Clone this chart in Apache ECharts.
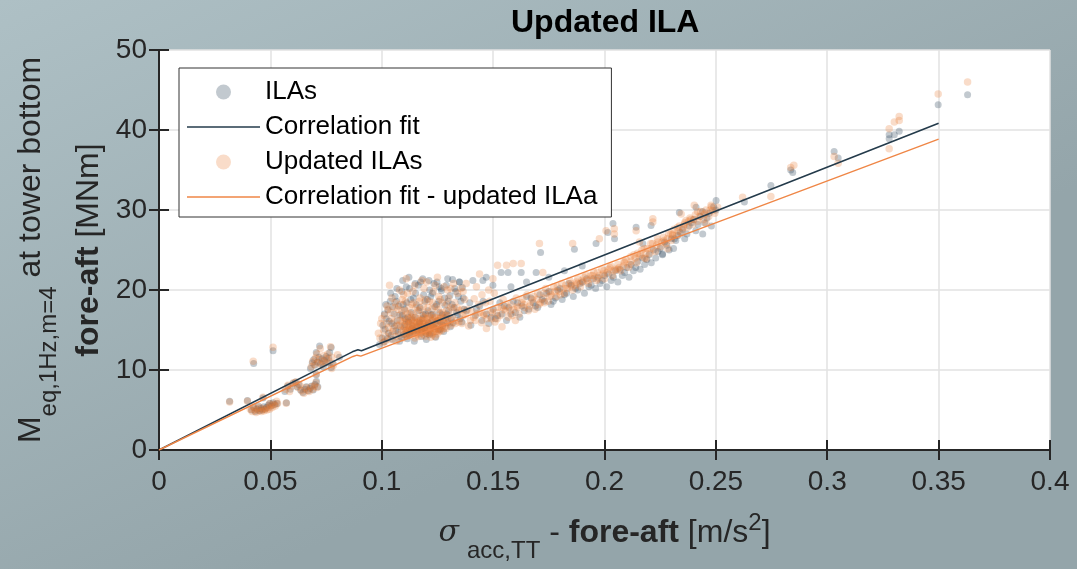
<!DOCTYPE html>
<html>
<head>
<meta charset="utf-8">
<script src="https://cdn.jsdelivr.net/npm/echarts@6/dist/echarts.min.js"></script>
<style>
  html, body { margin: 0; padding: 0; }
  #chart { width: 1077px; height: 569px; }
</style>
</head>
<body>
<div id="chart"></div>
<script>
// Axis tick labels
const xTickLabels = ['0', '0.05', '0.1', '0.15', '0.2', '0.25', '0.3', '0.35', '0.4'];
const yTickLabels = ['0', '10', '20', '30', '40', '50'];

// Original ILA load cases: [sigma_acc (m/s^2), M_eq (MNm)]
const ilas = [
  [0.0317, 6.1], [0.0397, 6.2], [0.0425, 10.8], [0.0512, 12.4],
  [0.0415, 5.0], [0.0425, 5.3], [0.0432, 4.8], [0.0440, 5.1], [0.0446, 5.5], [0.0452, 4.9], [0.0458, 5.2],
  [0.0463, 5.0], [0.0470, 5.4], [0.0476, 5.1], [0.0483, 5.3], [0.0490, 5.6], [0.0497, 5.8], [0.0504, 5.5],
  [0.0512, 5.9], [0.0520, 5.7], [0.0530, 5.8], [0.0467, 6.5], [0.0572, 5.9],
  [0.0565, 7.3], [0.0578, 8.0], [0.0590, 7.6], [0.0601, 8.3], [0.0612, 8.5], [0.0620, 7.9], [0.0628, 8.2],
  [0.0636, 7.5], [0.0646, 7.2], [0.0655, 7.6], [0.0662, 7.9], [0.0670, 7.4], [0.0678, 7.7], [0.0686, 8.0],
  [0.0692, 7.5], [0.0700, 8.2], [0.0707, 8.6], [0.0713, 7.9],
  [0.0680, 10.2], [0.0688, 10.9], [0.0695, 11.3], [0.0700, 10.6], [0.0706, 12.2], [0.0712, 11.0], [0.0718, 11.6],
  [0.0721, 13.0], [0.0726, 10.8], [0.0732, 11.4], [0.0738, 10.4], [0.0743, 11.2], [0.0750, 11.7], [0.0756, 10.9],
  [0.0762, 11.5], [0.0766, 12.2], [0.0773, 12.8], [0.0773, 10.3], [0.0781, 10.8], [0.0810, 11.6], [0.0706, 9.4],
  [0.0990, 13.2], [0.1002, 14.0], [0.1010, 13.5], [0.1015, 15.1], [0.1020, 16.4], [0.1028, 17.5], [0.1030, 14.6],
  [0.1038, 18.6], [0.1045, 15.8], [0.1050, 13.8], [0.1055, 17.0], [0.1060, 19.2], [0.1063, 14.9], [0.1070, 16.2],
  [0.1075, 18.0], [0.1080, 13.6], [0.1085, 15.4], [0.1090, 19.8], [0.1092, 16.8], [0.1098, 14.4], [0.1102, 17.6],
  [0.1108, 15.0], [0.1112, 18.4], [0.1115, 13.9], [0.1120, 16.0], [0.1125, 20.2], [0.1128, 14.7], [0.1132, 17.2],
  [0.1138, 15.5], [0.1142, 19.0], [0.1146, 13.6], [0.1150, 16.6], [0.1155, 18.2], [0.1160, 14.9], [0.1164, 20.6],
  [0.1168, 15.8], [0.1172, 17.8], [0.1178, 14.2], [0.1182, 16.4], [0.1188, 19.4], [0.1192, 15.2], [0.1196, 17.0],
  [0.1200, 13.8], [0.1205, 18.8], [0.1210, 15.9], [0.1215, 20.0], [0.1218, 14.6], [0.1222, 16.9], [0.1228, 19.6],
  [0.1232, 15.4], [0.1238, 17.9], [0.1242, 14.1], [0.1248, 21.0], [0.1252, 16.2], [0.1256, 18.6], [0.1262, 15.1],
  [0.1268, 19.9], [0.1272, 16.9], [0.1278, 14.8], [0.1284, 18.1], [0.1290, 20.6], [0.1295, 15.9], [0.1300, 17.4],
  [0.1306, 19.3], [0.1312, 16.4], [0.1318, 21.3], [0.1325, 17.8], [0.1332, 19.8], [0.1340, 16.9], [0.1348, 21.0],
  [0.1355, 18.6], [0.1362, 20.3], [0.1370, 17.6],
  [0.1005, 15.6], [0.1012, 17.0], [0.1025, 13.9], [0.1033, 16.1], [0.1042, 14.3], [0.1048, 17.9], [0.1058, 15.5],
  [0.1066, 18.6], [0.1073, 14.7], [0.1082, 16.9], [0.1088, 14.1], [0.1096, 18.2], [0.1104, 15.7], [0.1110, 20.4],
  [0.1118, 16.6], [0.1124, 14.4], [0.1130, 18.8], [0.1136, 16.3], [0.1144, 14.9], [0.1152, 19.6], [0.1158, 15.4],
  [0.1166, 17.4], [0.1174, 21.0], [0.1180, 15.0], [0.1186, 16.9], [0.1194, 18.6], [0.1202, 15.6], [0.1208, 17.4],
  [0.1214, 14.4], [0.1220, 19.2], [0.1226, 16.2], [0.1234, 20.8], [0.1240, 15.8], [0.1246, 18.2], [0.1254, 15.0],
  [0.1260, 17.2], [0.1266, 20.2], [0.1274, 15.6], [0.1282, 19.0], [0.1288, 16.6], [0.1298, 18.6], [0.1308, 15.4],
  [0.1316, 18.2], [0.1328, 20.2], [0.1336, 17.2], [0.1344, 19.2], [0.1352, 16.4], [0.1366, 19.0],
  [0.1018, 18.2], [0.1040, 19.6], [0.1068, 20.2], [0.1094, 21.2], [0.1122, 21.6], [0.1150, 20.8], [0.1184, 21.4],
  [0.1212, 21.2], [0.1258, 20.4], [0.1296, 21.4], [0.1106, 16.4], [0.1134, 15.2], [0.1170, 16.0], [0.1198, 14.6],
  [0.1230, 17.0], [0.1264, 16.0], [0.1292, 17.0], [0.1320, 15.9],
  [0.1360, 16.0], [0.1380, 17.4], [0.1400, 15.6], [0.1420, 16.8], [0.1440, 18.0], [0.1450, 16.2], [0.1470, 17.0],
  [0.1480, 15.8], [0.1500, 17.6], [0.1510, 16.4], [0.1530, 18.4], [0.1540, 17.0], [0.1560, 16.2], [0.1570, 17.8],
  [0.1590, 18.6], [0.1600, 17.2], [0.1620, 16.6], [0.1630, 18.0], [0.1650, 19.2], [0.1660, 17.6], [0.1680, 18.4],
  [0.1700, 17.8], [0.1710, 19.4], [0.1730, 18.6], [0.1750, 19.8], [0.1760, 18.2], [0.1780, 19.0], [0.1800, 20.2],
  [0.1810, 18.8], [0.1830, 19.6], [0.1850, 20.6], [0.1860, 19.2], [0.1880, 20.0], [0.1900, 21.0], [0.1910, 19.6],
  [0.1930, 20.4], [0.1950, 21.4], [0.1960, 20.2], [0.1980, 20.8], [0.2000, 21.8], [0.2010, 20.4], [0.2030, 21.2],
  [0.2050, 22.4], [0.2060, 21.0], [0.2080, 21.8], [0.2100, 22.8], [0.2110, 21.6], [0.2130, 22.4], [0.2150, 23.6],
  [0.2160, 22.6], [0.2180, 23.2], [0.2200, 24.4], [0.2210, 23.4], [0.2230, 24.0], [0.2250, 25.2], [0.2260, 24.4],
  [0.2280, 25.6], [0.2300, 26.4], [0.2310, 25.2], [0.2330, 26.8], [0.2350, 27.6], [0.2360, 26.4], [0.2380, 28.0],
  [0.2400, 28.8], [0.2410, 27.4], [0.2430, 29.2], [0.2450, 28.4], [0.2470, 29.6], [0.2480, 28.0], [0.2500, 30.0],
  [0.1395, 18.4], [0.1425, 17.6], [0.1455, 18.6], [0.1490, 16.6], [0.1520, 16.8], [0.1550, 18.0], [0.1580, 17.0],
  [0.1610, 18.4], [0.1640, 17.4], [0.1670, 19.0], [0.1690, 18.0], [0.1720, 18.8], [0.1740, 19.6], [0.1770, 18.6],
  [0.1790, 20.0], [0.1820, 19.4], [0.1840, 20.8], [0.1870, 20.2], [0.1890, 20.8], [0.1920, 21.4], [0.1940, 20.6],
  [0.1970, 21.6], [0.1990, 21.2], [0.2020, 22.0], [0.2040, 21.6], [0.2070, 22.6], [0.2090, 22.2], [0.2120, 23.2],
  [0.2140, 22.8], [0.2170, 24.0], [0.2190, 23.8], [0.2220, 25.0], [0.2240, 24.8], [0.2270, 26.0], [0.2290, 25.0],
  [0.2320, 26.2], [0.2340, 27.2], [0.2370, 27.0], [0.2390, 28.4], [0.2420, 28.2], [0.2440, 29.8], [0.2460, 29.0],
  [0.2490, 30.4],
  [0.1349, 21.0], [0.1409, 21.2], [0.1454, 21.2], [0.1469, 21.6], [0.1499, 20.6], [0.1536, 22.2], [0.1567, 22.2],
  [0.1626, 22.2], [0.1693, 22.2], [0.1713, 24.7], [0.1865, 25.1], [0.1962, 25.8], [0.2015, 27.2], [0.2045, 26.4],
  [0.2038, 28.3], [0.2142, 27.85], [0.2209, 28.05], [0.2172, 25.8], [0.2261, 24.5], [0.2314, 26.4], [0.2336, 29.7],
  [0.2411, 30.35], [0.2441, 27.0], [0.2501, 31.2], [0.2628, 31.0], [0.2747, 33.06], [0.1580, 20.4], [0.1650, 21.0],
  [0.1750, 21.6], [0.1820, 22.4], [0.1900, 23.0],
  [0.2845, 34.7], [0.2836, 35.0], [0.3031, 37.3], [0.3049, 36.5], [0.3278, 39.4], [0.3278, 38.9], [0.3301, 39.4],
  [0.3323, 39.85], [0.3498, 43.15], [0.3630, 44.4]
];

// Updated ILA load cases: [sigma_acc (m/s^2), M_eq (MNm)]
const ilasUpdated = [
  [0.0317, 6.0], [0.0397, 6.1], [0.0423, 11.1], [0.0512, 12.85],
  [0.0410, 5.1], [0.0418, 4.8], [0.0424, 5.4], [0.0430, 5.0], [0.0436, 4.7], [0.0442, 5.2], [0.0448, 4.9],
  [0.0454, 5.3], [0.0460, 4.8], [0.0466, 5.1], [0.0472, 4.9], [0.0478, 5.2], [0.0484, 5.0], [0.0490, 5.3],
  [0.0496, 5.1], [0.0502, 5.6], [0.0508, 5.3], [0.0514, 5.7], [0.0522, 5.5], [0.0532, 5.8], [0.0528, 6.1],
  [0.0467, 6.6], [0.0497, 5.8], [0.0571, 5.85],
  [0.0568, 7.6], [0.0579, 8.1], [0.0586, 7.3], [0.0596, 8.0], [0.0604, 8.4], [0.0616, 8.5], [0.0624, 7.8],
  [0.0632, 8.1], [0.0640, 7.4], [0.0650, 7.1], [0.0658, 7.8], [0.0666, 7.5], [0.0674, 7.3], [0.0682, 7.9],
  [0.0690, 7.6], [0.0698, 8.0], [0.0704, 8.4], [0.0710, 7.8],
  [0.0684, 10.4], [0.0690, 11.1], [0.0697, 10.7], [0.0703, 11.5], [0.0709, 12.0], [0.0714, 10.9], [0.0720, 11.3],
  [0.0724, 12.7], [0.0729, 10.6], [0.0735, 11.1], [0.0740, 11.8], [0.0746, 10.9], [0.0752, 11.4], [0.0758, 12.0],
  [0.0764, 11.1], [0.0770, 12.9], [0.0776, 11.6], [0.0783, 10.6], [0.0775, 10.2], [0.0706, 9.5], [0.0802, 11.9],
  [0.0985, 14.6], [0.0995, 15.8], [0.1005, 13.4], [0.1012, 16.8], [0.1018, 14.2], [0.1024, 18.0], [0.1030, 15.3],
  [0.1036, 13.8], [0.1040, 17.2], [0.1046, 19.0], [0.1050, 14.8], [0.1055, 16.0], [0.1060, 18.4], [0.1065, 13.6],
  [0.1068, 15.6], [0.1072, 17.6], [0.1076, 14.4], [0.1080, 20.0], [0.1084, 16.2], [0.1088, 15.0], [0.1092, 18.8],
  [0.1095, 14.0], [0.1098, 16.6], [0.1102, 15.4], [0.1105, 17.4], [0.1108, 14.6], [0.1112, 15.8], [0.1115, 19.6],
  [0.1118, 14.9], [0.1121, 16.4], [0.1124, 15.2], [0.1127, 17.0], [0.1130, 14.3], [0.1133, 15.6], [0.1136, 18.2],
  [0.1139, 16.0], [0.1142, 14.8], [0.1145, 15.4], [0.1148, 20.6], [0.1151, 16.6], [0.1154, 14.5], [0.1157, 15.9],
  [0.1160, 17.4], [0.1163, 15.1], [0.1166, 14.2], [0.1169, 16.2], [0.1172, 19.0], [0.1175, 15.5], [0.1178, 14.7],
  [0.1181, 16.8], [0.1184, 15.3], [0.1187, 18.0], [0.1190, 14.4], [0.1193, 15.8], [0.1196, 17.2], [0.1199, 15.0],
  [0.1202, 21.0], [0.1205, 16.4], [0.1208, 14.6], [0.1211, 15.6], [0.1214, 18.6], [0.1217, 15.2], [0.1220, 14.1],
  [0.1223, 16.0], [0.1226, 17.6], [0.1229, 15.4], [0.1232, 19.8], [0.1235, 14.8], [0.1238, 16.5], [0.1241, 15.1],
  [0.1244, 17.9], [0.1248, 14.5], [0.1252, 16.2], [0.1256, 19.2], [0.1260, 15.5], [0.1264, 17.0], [0.1268, 14.9],
  [0.1272, 18.4], [0.1276, 16.0], [0.1280, 20.4], [0.1285, 15.4], [0.1290, 17.4], [0.1295, 16.4], [0.1300, 19.0],
  [0.1305, 15.8], [0.1310, 17.8], [0.1316, 16.6], [0.1322, 20.8], [0.1328, 18.4], [0.1334, 16.2], [0.1340, 19.6],
  [0.1348, 17.4], [0.1356, 20.2], [0.1364, 16.8], [0.1372, 18.8],
  [0.1035, 20.6], [0.1110, 21.4], [0.1180, 21.2], [0.1250, 21.6],
  [0.0992, 14.0], [0.1000, 16.4], [0.1008, 15.0], [0.1016, 13.6], [0.1022, 15.8], [0.1028, 17.6], [0.1034, 14.6],
  [0.1043, 16.4], [0.1052, 15.2], [0.1058, 17.8], [0.1063, 14.2], [0.1070, 16.8], [0.1078, 15.6], [0.1083, 18.2],
  [0.1090, 16.0], [0.1097, 15.0], [0.1103, 16.2], [0.1107, 18.6], [0.1113, 14.2], [0.1117, 15.6], [0.1122, 17.8],
  [0.1126, 14.8], [0.1131, 16.2], [0.1135, 15.0], [0.1140, 17.0], [0.1144, 15.8], [0.1149, 14.0], [0.1153, 17.8],
  [0.1158, 15.2], [0.1162, 16.0], [0.1167, 15.0], [0.1171, 17.6], [0.1176, 16.2], [0.1180, 14.9], [0.1185, 15.7],
  [0.1189, 16.6], [0.1194, 14.8], [0.1198, 16.0], [0.1203, 15.4], [0.1207, 17.8], [0.1212, 14.8], [0.1216, 16.6],
  [0.1221, 15.6], [0.1225, 14.6], [0.1230, 16.8], [0.1234, 15.6], [0.1239, 14.2], [0.1243, 16.0], [0.1249, 15.6],
  [0.1254, 17.6], [0.1258, 14.8], [0.1263, 16.4], [0.1269, 15.8], [0.1274, 17.2], [0.1279, 15.2], [0.1287, 16.8],
  [0.1293, 18.2], [0.1302, 16.8], [0.1312, 15.6], [0.1320, 17.6], [0.1330, 15.8], [0.1338, 17.8], [0.1346, 16.0],
  [0.1360, 17.6], [0.1098, 19.4], [0.1140, 19.8], [0.1190, 20.2], [0.1240, 20.6], [0.1296, 20.0],
  [0.1100, 15.2], [0.1106, 14.4], [0.1111, 16.0], [0.1116, 15.0], [0.1120, 14.4], [0.1125, 15.8], [0.1129, 15.0],
  [0.1134, 16.6], [0.1137, 14.6], [0.1141, 15.2], [0.1146, 16.2], [0.1150, 14.8], [0.1155, 15.6], [0.1159, 14.4],
  [0.1164, 16.4], [0.1168, 15.4], [0.1173, 14.6], [0.1177, 15.8], [0.1182, 15.0], [0.1186, 16.2], [0.1191, 15.4],
  [0.1195, 14.2], [0.1200, 16.4], [0.1204, 14.6], [0.1209, 15.8], [0.1213, 16.8], [0.1218, 15.0], [0.1222, 15.4],
  [0.1227, 14.4], [0.1231, 16.2], [0.1236, 15.2], [0.1240, 16.6], [0.1245, 14.8], [0.1250, 15.2], [0.1255, 16.4],
  [0.1261, 15.0], [0.1266, 16.6], [0.1271, 15.4], [0.1277, 16.4], [0.1283, 15.8], [0.1289, 15.2], [0.1298, 16.0],
  [0.1090, 17.4], [0.1114, 17.0], [0.1143, 18.4], [0.1170, 18.6], [0.1197, 18.8], [0.1228, 18.4], [0.1262, 18.8],
  [0.1360, 15.8], [0.1375, 16.9], [0.1390, 15.5], [0.1405, 17.3], [0.1420, 16.2], [0.1435, 18.2], [0.1448, 15.9],
  [0.1460, 17.0], [0.1472, 16.4], [0.1485, 18.6], [0.1496, 17.2], [0.1508, 16.0], [0.1520, 17.8], [0.1532, 16.8],
  [0.1545, 18.8], [0.1556, 17.4], [0.1568, 16.6], [0.1580, 18.2], [0.1592, 17.6], [0.1604, 19.0], [0.1616, 17.0],
  [0.1628, 18.4], [0.1640, 17.8], [0.1652, 19.4], [0.1664, 18.0], [0.1676, 18.8], [0.1688, 17.6], [0.1700, 19.6],
  [0.1712, 18.4], [0.1724, 19.0], [0.1736, 20.2], [0.1748, 18.6], [0.1760, 19.4], [0.1772, 20.4], [0.1784, 19.2],
  [0.1796, 19.8], [0.1808, 20.8], [0.1820, 19.6], [0.1832, 20.2], [0.1844, 21.2], [0.1856, 20.0], [0.1868, 20.6],
  [0.1880, 21.4], [0.1892, 20.4], [0.1904, 21.0], [0.1916, 21.8], [0.1928, 20.8], [0.1940, 21.4], [0.1952, 22.2],
  [0.1964, 21.2], [0.1976, 21.8], [0.1988, 22.6], [0.2000, 21.4], [0.2012, 22.2], [0.2024, 22.8], [0.2036, 21.8],
  [0.2048, 22.6], [0.2060, 23.2], [0.2072, 22.4], [0.2084, 23.0], [0.2096, 23.8], [0.2108, 22.8], [0.2120, 23.6],
  [0.2132, 24.4], [0.2144, 23.4], [0.2156, 24.2], [0.2168, 25.0], [0.2180, 24.0], [0.2192, 25.2], [0.2204, 24.6],
  [0.2216, 25.8], [0.2228, 24.8], [0.2240, 26.0], [0.2252, 25.4], [0.2264, 26.6], [0.2276, 25.8], [0.2288, 27.0],
  [0.2300, 26.2], [0.2312, 27.6], [0.2324, 26.8], [0.2336, 28.0], [0.2348, 27.2], [0.2360, 28.4], [0.2372, 27.8],
  [0.2384, 29.0], [0.2396, 28.2], [0.2408, 29.4], [0.2420, 28.6], [0.2432, 29.8], [0.2444, 28.8], [0.2456, 30.0],
  [0.2468, 29.2], [0.2480, 30.4], [0.2495, 29.6],
  [0.1385, 17.6], [0.1412, 16.6], [0.1440, 17.2], [0.1465, 18.4], [0.1492, 16.4], [0.1515, 17.2], [0.1538, 17.8],
  [0.1562, 18.0], [0.1586, 16.8], [0.1610, 17.8], [0.1634, 18.8], [0.1658, 17.4], [0.1682, 19.2], [0.1706, 18.2],
  [0.1730, 18.4], [0.1754, 19.2], [0.1778, 19.8], [0.1802, 19.4], [0.1826, 20.6], [0.1850, 20.4], [0.1874, 21.0],
  [0.1898, 21.2], [0.1922, 21.2], [0.1946, 21.8], [0.1970, 21.4], [0.1994, 22.0], [0.2018, 22.6], [0.2042, 22.4],
  [0.2066, 22.8], [0.2090, 23.4], [0.2114, 23.2], [0.2138, 24.0], [0.2162, 24.4], [0.2186, 24.6], [0.2210, 25.2],
  [0.2234, 25.6], [0.2258, 26.0], [0.2282, 26.4], [0.2306, 26.8], [0.2330, 27.4], [0.2354, 27.8], [0.2378, 28.6],
  [0.2402, 28.8], [0.2426, 29.2], [0.2450, 29.6], [0.2474, 30.0],
  [0.1398, 16.2], [0.1428, 17.0], [0.1458, 16.8], [0.1488, 17.4], [0.1518, 16.4], [0.1548, 17.6], [0.1578, 17.4],
  [0.1608, 18.0], [0.1638, 18.2], [0.1668, 18.4], [0.1698, 18.8], [0.1728, 19.6], [0.1758, 19.8], [0.1788, 20.4],
  [0.1818, 20.2], [0.1848, 20.8], [0.1878, 20.8], [0.1908, 21.6], [0.1938, 21.8], [0.1968, 22.2], [0.1998, 22.4],
  [0.2028, 23.0], [0.2058, 22.6], [0.2088, 23.6], [0.2118, 24.2], [0.2148, 24.6], [0.2178, 25.2], [0.2208, 25.8],
  [0.2238, 26.4], [0.2268, 26.2], [0.2298, 27.0], [0.2328, 27.8], [0.2358, 28.2], [0.2388, 28.8], [0.2418, 29.8],
  [0.2448, 29.4], [0.2478, 30.6],
  [0.1415, 18.9], [0.1450, 19.4], [0.1505, 19.6], [0.1540, 15.4], [0.1470, 15.2], [0.1600, 16.2],
  [0.1310, 20.2], [0.1365, 19.8], [0.1425, 20.4], [0.1480, 20.0],
  [0.1520, 23.1], [0.1560, 23.1], [0.1590, 23.3], [0.1626, 23.3], [0.1708, 25.8], [0.1723, 22.2], [0.1857, 25.8],
  [0.1977, 26.4], [0.2044, 27.0], [0.2007, 27.4], [0.2044, 27.65], [0.2142, 27.4], [0.2217, 28.5], [0.2217, 28.9],
  [0.2157, 26.0], [0.2187, 23.9], [0.2284, 25.15], [0.2306, 27.0], [0.2344, 29.5], [0.2366, 28.7], [0.2403, 30.6],
  [0.2456, 28.3], [0.2486, 29.9], [0.2508, 30.35], [0.2620, 31.6], [0.2747, 31.7], [0.1439, 22.0], [0.1379, 20.8],
  [0.1499, 21.4],
  [0.2836, 35.3], [0.2850, 35.6], [0.3031, 36.7], [0.3049, 35.85], [0.3278, 40.15], [0.3301, 41.0], [0.3323, 41.7],
  [0.3323, 41.2], [0.3278, 37.65], [0.3498, 44.5], [0.3630, 46.0]
];

// Correlation fits (piecewise linear)
const fitX = [0, 0.0868, 0.0893, 0.0909, 0.35];
const fitY = [0, 12.27, 12.52, 12.40, 40.85];
const fitUpdX = [0, 0.0871, 0.0889, 0.0906, 0.35];
const fitUpdY = [0, 11.69, 11.85, 11.73, 38.85];

const FONT = 'Liberation Sans, Arial, Helvetica, sans-serif';
const INK = '#262626';
// Plain horizontal stroke used as the legend icon of the fit lines
const LINE_ICON = 'path://M0,0H100V2H0Z';

const zip = (xs, ys) => xs.map((x, i) => [x, ys[i]]);

const chart = echarts.init(document.getElementById('chart'), null, { renderer: 'canvas' });

const axisLineStyle = { color: INK, width: 2 };
const tickStyle = { show: true, inside: true, length: 10, lineStyle: { color: INK, width: 2 } };

const tok = (extra) => Object.assign({ fontFamily: FONT, color: INK, verticalAlign: 'top' }, extra);

chart.setOption({
  animation: false,
  graphic: [{
    type: 'rect', z: -100, silent: true,
    shape: { x: 0, y: 0, width: 1077, height: 569 },
    style: {
      fill: { type: 'linear', x: 0, y: 0, x2: 0.25, y2: 1,
        colorStops: [{ offset: 0, color: '#aec0c5' }, { offset: 1, color: '#94a5aa' }] }
    }
  }],
  title: {
    text: 'Updated ILA',
    left: 511, top: 7, padding: 0,
    textStyle: { fontFamily: FONT, fontSize: 32, fontWeight: 'bold', color: '#000' }
  },
  legend: {
    data: [
      { name: 'ILAs' },
      { name: 'Correlation fit', icon: LINE_ICON },
      { name: 'Updated ILAs' },
      { name: 'Correlation fit - updated ILAa', icon: LINE_ICON }
    ],
    orient: 'vertical', left: 179, top: 68,
    padding: [11, 14, 7, 8],
    itemWidth: 73, itemHeight: 15, itemGap: 9, itemTextGap: 6,
    backgroundColor: '#ffffff', borderColor: '#333333', borderWidth: 1, borderRadius: 0,
    textStyle: { fontFamily: FONT, fontSize: 26, color: '#000', lineHeight: 26 }
  },
  grid: {
    left: 159, right: 27, top: 50, bottom: 119,
    show: true, backgroundColor: '#ffffff', borderWidth: 0
  },
  xAxis: [{
    type: 'value', position: 'bottom', min: 0, max: 0.4, interval: 0.05,
    axisLine: { show: true, lineStyle: axisLineStyle },
    axisTick: tickStyle,
    axisLabel: { margin: 18, fontFamily: FONT, fontSize: 28, color: INK,
      formatter: (v) => xTickLabels[Math.round(v / 0.05)] },
    splitLine: { show: true, lineStyle: { color: '#e2e2e2', width: 1.5 } },
    name: '{g|σ}{s|acc,TT}{r| - }{b|fore-aft}{r| [m/s}{p|2}{r|]}',
    nameLocation: 'middle', nameGap: 57,
    nameTextStyle: {
      fontFamily: FONT, fontSize: 32, color: INK,
      rich: {
        g: tok({ fontSize: 30, fontStyle: 'italic', fontFamily: 'DejaVu Serif, serif', padding: [11, 8, 0, 0] }),
        s: tok({ fontSize: 24, padding: [32, 0, 0, 0] }),
        r: tok({ fontSize: 32, padding: [10, 0, 0, 0] }),
        b: tok({ fontSize: 32, fontWeight: 'bold', padding: [10, 0, 0, 0] }),
        p: tok({ fontSize: 24, padding: [4, 0, 0, 0] })
      }
    }
  }, {
    type: 'value', position: 'top', min: 0, max: 0.4, interval: 0.05,
    axisLine: { show: true, lineStyle: axisLineStyle },
    axisTick: tickStyle,
    axisLabel: { show: false },
    splitLine: { show: false }
  }],
  yAxis: [{
    type: 'value', position: 'left', min: 0, max: 50, interval: 10,
    axisLine: { show: true, lineStyle: axisLineStyle },
    axisTick: tickStyle,
    axisLabel: { margin: 12, fontFamily: FONT, fontSize: 28, color: INK,
      formatter: (v) => yTickLabels[Math.round(v / 10)] },
    splitLine: { show: true, lineStyle: { color: '#e2e2e2', width: 1.5 } },
    name: '{m|M}{s|eq,1Hz,m=4}{m| at tower bottom}\n{b|fore-aft}{r| [MNm]}',
    nameLocation: 'middle', nameRotate: 90, nameGap: 54,
    nameTextStyle: {
      fontFamily: FONT, fontSize: 32, color: INK, align: 'center',
      rich: {
        m: tok({ fontSize: 32, padding: [0, 0, 0, 0] }),
        s: tok({ fontSize: 24, padding: [22, 0, 0, 0] }),
        b: tok({ fontSize: 32, fontWeight: 'bold', padding: [12, 0, 0, 0] }),
        r: tok({ fontSize: 32, padding: [12, 0, 0, 0] })
      }
    }
  }, {
    type: 'value', position: 'right', min: 0, max: 50, interval: 10,
    axisLine: { show: true, lineStyle: axisLineStyle },
    axisTick: tickStyle,
    axisLabel: { show: false },
    splitLine: { show: false }
  }],
  series: [{
    name: 'ILAs', type: 'scatter', xAxisIndex: 0, yAxisIndex: 0,
    data: ilas, symbol: 'circle', symbolSize: 7, z: 2,
    itemStyle: { color: 'rgba(44,70,88,0.36)' }
  }, {
    name: 'Correlation fit', type: 'line', xAxisIndex: 0, yAxisIndex: 0,
    data: zip(fitX, fitY), symbol: 'none', z: 4,
    lineStyle: { color: '#243b4b', width: 1.6 }, itemStyle: { color: '#243b4b' }
  }, {
    name: 'Updated ILAs', type: 'scatter', xAxisIndex: 0, yAxisIndex: 0,
    data: ilasUpdated, symbol: 'circle', symbolSize: 7.5, z: 3,
    itemStyle: { color: 'rgba(234,122,50,0.33)' }
  }, {
    name: 'Correlation fit - updated ILAa', type: 'line', xAxisIndex: 0, yAxisIndex: 0,
    data: zip(fitUpdX, fitUpdY), symbol: 'none', z: 5,
    lineStyle: { color: '#ef8646', width: 1.4 }, itemStyle: { color: '#ef8646' }
  }]
});
</script>
</body>
</html>
